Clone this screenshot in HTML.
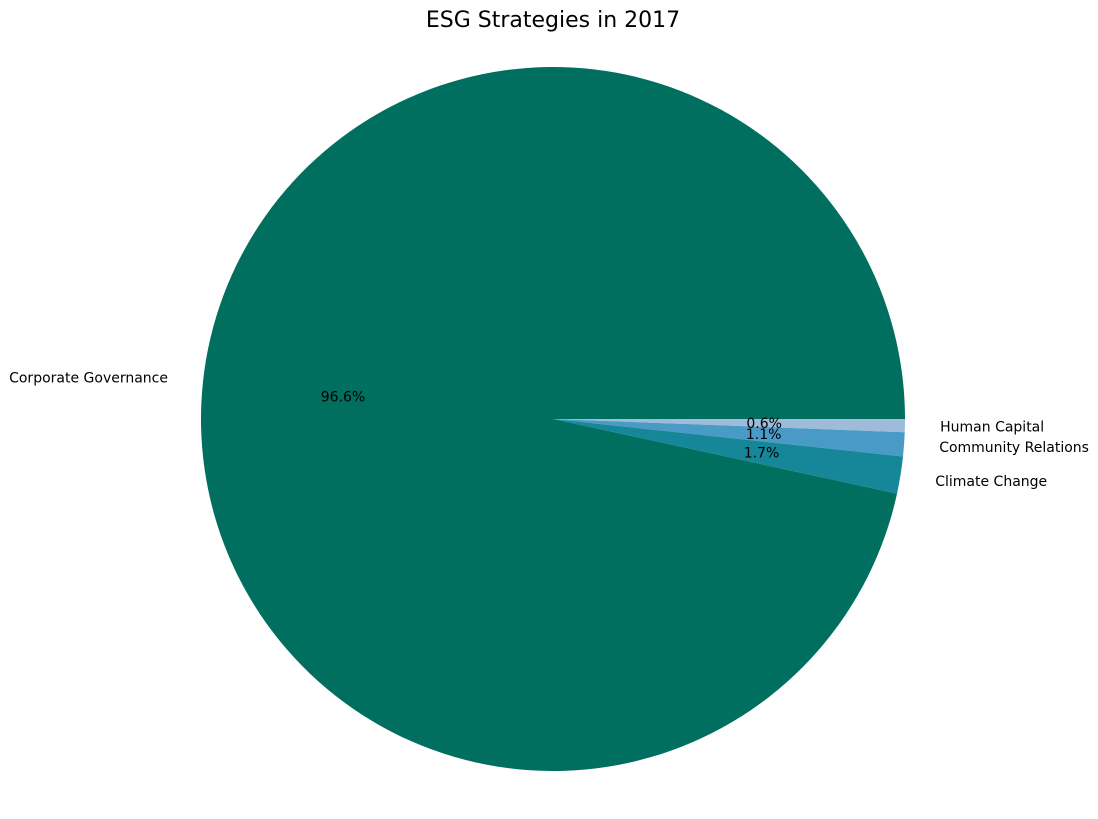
<!DOCTYPE html>
<html><head><meta charset="utf-8"><style>
body{margin:0;background:#fff;}
svg text{font-family:"DejaVu Sans","Liberation Sans",sans-serif;}
</style></head><body>
<svg id="chart" width="1098" height="814" xmlns="http://www.w3.org/2000/svg">
<text x="553" y="27" text-anchor="middle" font-size="22">ESG Strategies in 2017</text>
<g id="slices"></g><g id="labels"></g>
</svg>
<script>
const categories=["Human Capital","Community Relations","Climate Change","Corporate Governance"];
const values=[0.6,1.1,1.7,96.6];
const colors=["#9ebcda","#4a9ac6","#168799","#016f5f"];
const cx=553,cy=419,r=352;
const total=values.reduce((a,b)=>a+b,0);
const ns="http://www.w3.org/2000/svg";
const gS=document.getElementById('slices'),gL=document.getElementById('labels');
let a0=0;
function pt(a,rr){return [cx+rr*Math.cos(a),cy+rr*Math.sin(a)];}
values.forEach((v,i)=>{
  const frac=v/total,a1=a0+frac*2*Math.PI;
  const p0=pt(a0,r),p1=pt(a1,r);
  const path=document.createElementNS(ns,'path');
  path.setAttribute('d',`M${cx},${cy} L${p0[0]},${p0[1]} A${r},${r} 0 ${frac>0.5?1:0} 1 ${p1[0]},${p1[1]} Z`);
  path.setAttribute('fill',colors[i]);
  
  
  gS.appendChild(path);
  const m=(a0+a1)/2;
  const lp=pt(m,r*1.1);
  const t=document.createElementNS(ns,'text');
  t.setAttribute('x',lp[0]);t.setAttribute('y',lp[1]+5);
  t.setAttribute('font-size','14');
  t.setAttribute('text-anchor',Math.cos(m)>=0?'start':'end');
  t.textContent=categories[i];
  
  
  gL.appendChild(t);
  const pp=pt(m,r*0.6);
  const p=document.createElementNS(ns,'text');
  p.setAttribute('x',pp[0]);p.setAttribute('y',pp[1]+5);
  p.setAttribute('font-size','14');p.setAttribute('text-anchor','middle');
  p.textContent=(frac*100).toFixed(1)+'%';
  
  
  gL.appendChild(p);
  a0=a1;
});
</script>
</body></html>
